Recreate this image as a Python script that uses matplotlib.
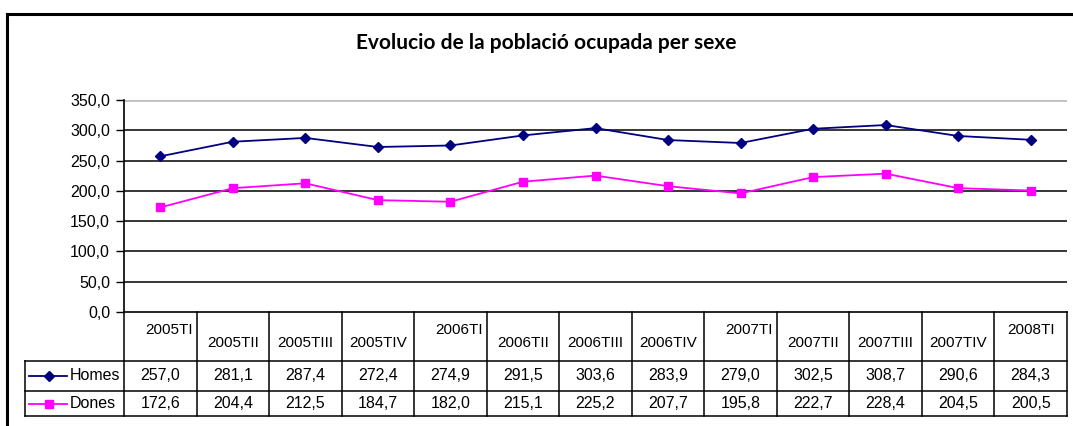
import matplotlib
matplotlib.use("Agg")
import matplotlib.pyplot as plt
from matplotlib.lines import Line2D
import matplotlib.transforms as mtransforms

categories = ["2005TI", "2005TII", "2005TIII", "2005TIV", "2006TI", "2006TII", "2006TIII",
              "2006TIV", "2007TI", "2007TII", "2007TIII", "2007TIV", "2008TI"]
homes = [257.0, 281.1, 287.4, 272.4, 274.9, 291.5, 303.6, 283.9, 279.0, 302.5, 308.7, 290.6, 284.3]
dones = [172.6, 204.4, 212.5, 184.7, 182.0, 215.1, 225.2, 207.7, 195.8, 222.7, 228.4, 204.5, 200.5]
series_names = ["Homes", "Dones"]
yticks = [0, 50, 100, 150, 200, 250, 300, 350]
title = "Evolucio de la població ocupada per sexe"

plt.rcParams['font.family'] = ['Liberation Sans', 'DejaVu Sans']

W, H = 1073, 426
fig = plt.figure(figsize=(W / 100, H / 100), dpi=100)

def fx(p):
    return p / W

def fy(p):
    return 1 - p / H

ax_l, ax_r, ax_t, ax_b = 124, 1067, 100, 312
ax = fig.add_axes([fx(ax_l), fy(ax_b), fx(ax_r - ax_l), (ax_b - ax_t) / H])

x = list(range(len(categories)))
c_h = "#000080"
c_d = "#FF00FF"
ax.plot(x, homes, color=c_h, lw=1.3, marker="D", ms=5.5, mfc=c_h, mec=c_h, zorder=3)
ax.plot(x, dones, color=c_d, lw=1.3, marker="s", ms=6, mfc=c_d, mec=c_d, zorder=3)

ax.set_xlim(-0.5, len(categories) - 0.5)
ax.set_ylim(0, 350)
ax.set_yticks(yticks)
ax.set_yticklabels([f"{v:.1f}".replace(".", ",") for v in yticks], fontsize=11.5)
ax.set_xticks([])
ax.tick_params(axis="y", direction="out", length=6, width=1, pad=4, colors="black")
for v in yticks[1:-1]:
    ax.axhline(v, color="black", lw=1.1, zorder=1)
ax.axhline(350, color="#c0c0c0", lw=2, zorder=1)
for s in ["top", "right", "bottom"]:
    ax.spines[s].set_visible(False)
ax.spines["left"].set_linewidth(1.2)
ax.axhline(0, color="black", lw=1.2, zorder=2, clip_on=False)

# Data table
bt = mtransforms.blended_transform_factory(ax.transData, fig.transFigure)
ft = fig.transFigure
row_hdr_bot, row1_bot, row2_bot = 361, 391, 416
leg_left = 25
lw_t = 1.1
kw = dict(color="black", lw=lw_t, clip_on=False)

for i in range(len(categories) + 1):
    xb = i - 0.5
    fig.add_artist(Line2D([xb, xb], [fy(ax_b), fy(row2_bot)], transform=bt, **kw))
for yy in [row_hdr_bot, row1_bot, row2_bot]:
    fig.add_artist(Line2D([fx(leg_left), fx(ax_r)], [fy(yy), fy(yy)], transform=ft, **kw))
fig.add_artist(Line2D([fx(leg_left), fx(leg_left)], [fy(row_hdr_bot), fy(row2_bot)], transform=ft, **kw))

n = len(categories)
for i, cat in enumerate(categories):
    high = cat.endswith("TI")
    yy = 330 if high else 343
    dx = 0.12 if (high and i < n - 1) else 0
    fig.text(i + dx, fy(yy), cat, transform=bt, ha="center", va="center", fontsize=11)
    fig.text(i, fy((row_hdr_bot + row1_bot) / 2), f"{homes[i]:.1f}".replace(".", ","),
             transform=bt, ha="center", va="center", fontsize=11.5)
    fig.text(i, fy((row1_bot + row2_bot) / 2), f"{dones[i]:.1f}".replace(".", ","),
             transform=bt, ha="center", va="center", fontsize=11.5)

for name, col, mk, ms, y0, y1 in [(series_names[0], c_h, "D", 5.5, row_hdr_bot, row1_bot),
                                  (series_names[1], c_d, "s", 6, row1_bot, row2_bot)]:
    ym = fy((y0 + y1) / 2)
    fig.add_artist(Line2D([fx(29), fx(67)], [ym, ym], transform=ft, color=col, lw=1.3))
    fig.add_artist(Line2D([fx(49)], [ym], transform=ft, color=col, marker=mk, ms=ms, mfc=col, mec=col))
    fig.text(fx(70), ym, name, transform=ft, ha="left", va="center", fontsize=11.5)

# Outer frame (top and left)
fig.add_artist(Line2D([fx(7), fx(W)], [fy(14), fy(14)], transform=ft, color="black", lw=2.2))
fig.add_artist(Line2D([fx(7), fx(7)], [fy(14), fy(H)], transform=ft, color="black", lw=2.2))

fig.text(fx(546), fy(43), title, ha="center", va="center", fontsize=15, fontweight="bold",
         family=["Lato", "DejaVu Sans"])

fig.savefig("out.png", dpi=100, facecolor="white")
